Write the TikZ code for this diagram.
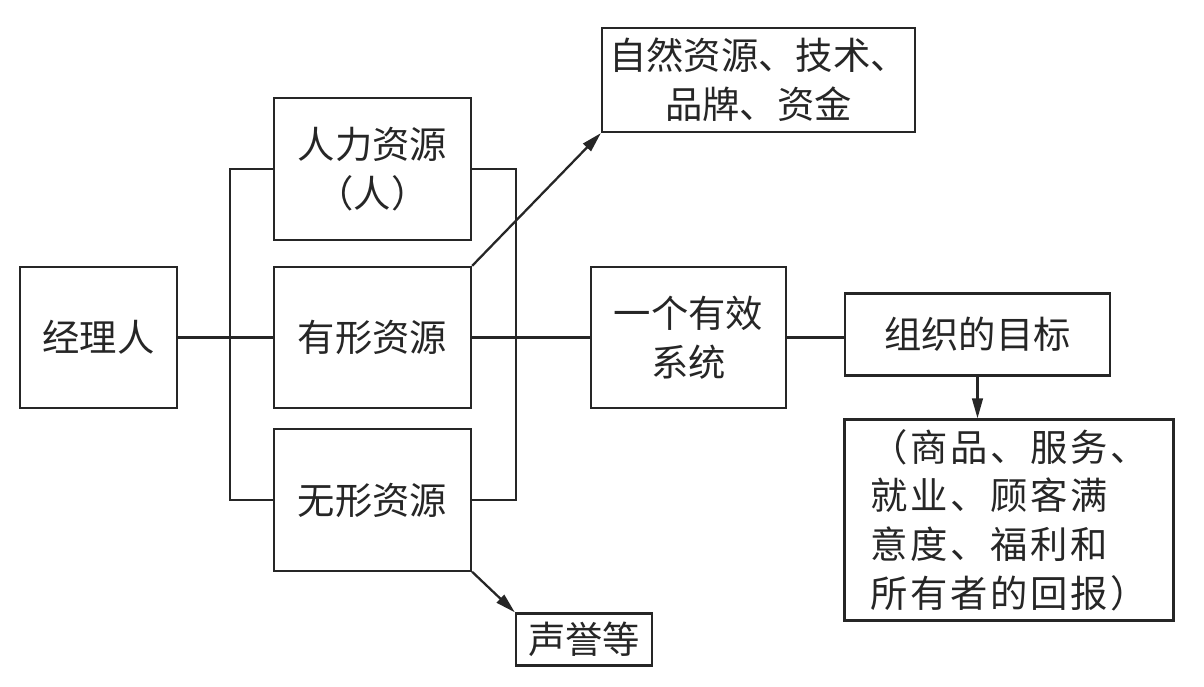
\documentclass[tikz,border=0pt]{standalone}
\usepackage{fontspec}
\newfontfamily\cjk{Noto Sans CJK SC}
\newfontfamily\cjkwide[LetterSpace=7]{Noto Sans CJK SC}
\usetikzlibrary{arrows.meta}
\begin{document}
\begin{tikzpicture}[x=0.75pt,y=-0.75pt,
  box/.style={draw=black!85,line width=1.7pt,rectangle,inner sep=0pt,align=center,
    font=\cjk\fontsize{28}{37}\selectfont,text=black!85},
  wire/.style={draw=black!85,line width=1.7pt},
  arr/.style={wire,-{Triangle[length=15pt,width=8pt]}}]
\fill[white] (0,0) rectangle (1204,686);
\useasboundingbox (0,0) rectangle (1204,686);
\node[box,minimum width=117.75pt,minimum height=105.75pt] (mgr) at (98.5,337.5) {经理人};
\node[box,minimum width=147.75pt,minimum height=106pt] (hr) at (372.5,169) {人力资源\\（人）};
\node[box,minimum width=147.75pt,minimum height=105.75pt] (tang) at (372.5,337.5) {有形资源};
\node[box,minimum width=147.75pt,minimum height=106pt] (intang) at (372.5,500) {无形资源};
\node[box,minimum width=146.25pt,minimum height=105.75pt] (sys) at (688.5,337.5) {一个有效\\系统};
\node[box,minimum width=198.75pt,minimum height=61.5pt] (goal) at (977.5,334.5) {组织的目标};
\node[box,minimum width=246.75pt,minimum height=150.75pt,align=left,
  font=\cjkwide\fontsize{28}{36.5}\selectfont] (out) at (1009,520)
  {（商品、服务、\\就业、顾客满\\意度、福利和\\所有者的回报）};
\node[box,minimum width=234.75pt,minimum height=78pt] (nat) at (758.5,80) {自然资源、技术、\\品牌、资金};
\node[box,minimum width=102pt,minimum height=39pt] (rep) at (584,639.5) {声誉等};
\coordinate (lb) at (230,0);
\coordinate (rb) at (516,0);
\draw[wire] (mgr.east) -- (tang.west);
\draw[wire] (hr.west) -- (hr.west -| lb) |- (intang.west);
\draw[wire] (hr.east) -- (hr.east -| rb) |- (intang.east);
\draw[wire] (tang.east) -- (sys.west);
\draw[wire] (sys.east) -- (sys.east -| goal.west);
\draw[arr] (goal.south) -- (goal.south |- out.north);
\draw[arr] (tang.north east) -- (nat.south west);
\draw[arr] (intang.south east) -- (rep.north west);
\end{tikzpicture}
\end{document}
